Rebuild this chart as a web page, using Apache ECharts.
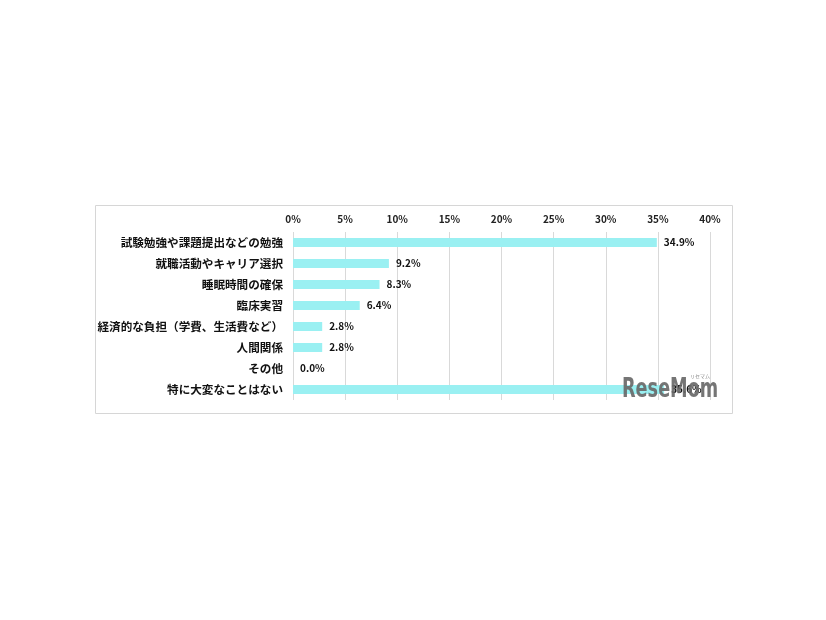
<!DOCTYPE html>
<html><head><meta charset="utf-8">
<script src="https://cdn.jsdelivr.net/npm/echarts@6/dist/echarts.min.js"></script>
<style>html,body{margin:0;padding:0;background:#fff}#c{width:826px;height:620px}</style>
</head><body><div id="c"></div>
<script>
const categories = ['試験勉強や課題提出などの勉強','就職活動やキャリア選択','睡眠時間の確保','臨床実習','経済的な負担（学費、生活費など）','人間関係','その他','特に大変なことはない'];
const values = [34.9, 9.2, 8.3, 6.4, 2.8, 2.8, 0.0, 35.6];
const axisMin = 0, axisMax = 40, axisStep = 5;
const font = '"Noto Sans CJK JP", sans-serif';
const chart = echarts.init(document.getElementById('c'));
chart.setOption({
  animation: false,
  backgroundColor: '#fff',
  graphic: [
    {type:'rect', shape:{x:95.5,y:205.5,width:637,height:208}, style:{fill:'none', stroke:'#d6d6d6', lineWidth:1}, z:-1},
    {type:'text', x:622, y:377, scaleX:0.68, style:{x:0, y:0, text:'ReseMom', font:'bold 26px "DejaVu Sans", sans-serif', fill:'rgba(105,105,105,0.92)'}, z:100},
    {type:'text', x:690, y:374, style:{x:0, y:0, text:'リセマム', font:'5px '+font, fill:'#888'}, z:100}
  ],
  grid: {left:293, right:116, top:232, height:168, containLabel:false},
  xAxis: {
    type:'value', position:'top', min:axisMin, max:axisMax, interval:axisStep,
    axisLine:{show:false}, axisTick:{show:false},
    axisLabel:{formatter:'{value}%', color:'#222', fontFamily:font, fontWeight:'bold', fontSize:10, margin:8},
    splitLine:{show:true, lineStyle:{color:'#d9d9d9', width:1}}
  },
  yAxis: {
    type:'category', inverse:true, data:categories,
    axisLine:{show:false}, axisTick:{show:false},
    axisLabel:{color:'#111', fontFamily:font, fontWeight:'bold', fontSize:11.6, margin:10}
  },
  series: [{
    type:'bar', data:values, barWidth:9,
    itemStyle:{color:'#9af0f2'},
    label:{show:true, position:'right', distance:7, formatter:p=>p.value.toFixed(1)+'%', color:'#111', fontFamily:font, fontWeight:'bold', fontSize:10}
  }]
});
</script></body></html>
